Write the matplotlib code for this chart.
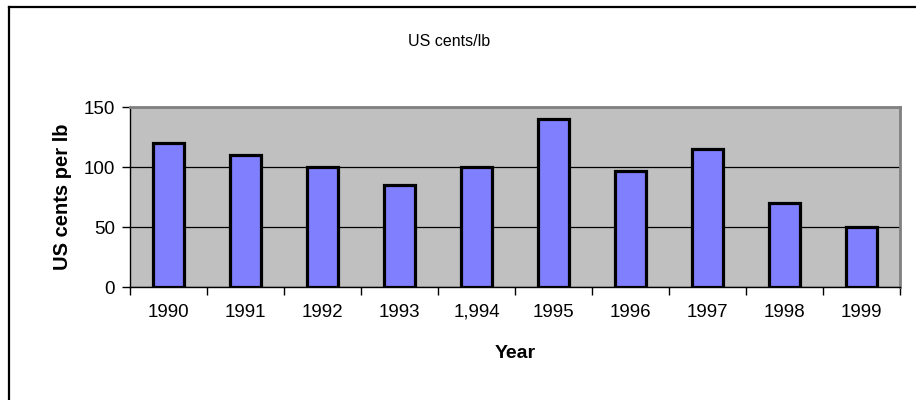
import numpy as np
import matplotlib.pyplot as plt
from matplotlib.lines import Line2D

plt.rcParams['font.family'] = ['Liberation Sans', 'DejaVu Sans']

years = ['1990', '1991', '1992', '1993', '1,994', '1995', '1996', '1997', '1998', '1999']
cents = [120, 110, 100, 85, 100, 140, 97, 115, 70, 50]


def main():
    fig = plt.figure(figsize=(9.16, 4.0), dpi=100)
    ax = fig.add_axes([130 / 916, 1 - 287 / 400, 770 / 916, 180 / 400])
    ax.set_facecolor('#c0c0c0')

    x = np.arange(len(years))
    ax.bar(x, cents, width=0.41, color='#8080ff', edgecolor='black',
           linewidth=2.3, zorder=3)

    ax.set_xlim(-0.5, len(years) - 0.5)
    ax.set_ylim(0, 150)
    ax.set_yticks([0, 50, 100, 150])
    ax.yaxis.grid(True, color='black', linewidth=0.9, zorder=1)
    ax.set_axisbelow(True)

    # category labels centred, ticks on the boundaries
    ax.set_xticks(x)
    ax.set_xticklabels(years)
    ax.tick_params(axis='x', which='major', length=0, pad=12, labelsize=13.5)
    ax.set_xticks(np.arange(len(years) + 1) - 0.5, minor=True)
    ax.tick_params(axis='x', which='minor', length=6, width=1, direction='out')
    ax.tick_params(axis='y', length=6, width=1, direction='out', pad=5, labelsize=13.5)

    for side in ['left', 'bottom']:
        ax.spines[side].set_color('black')
        ax.spines[side].set_linewidth(1)
    for side in ['top', 'right']:
        ax.spines[side].set_color('#808080')
        ax.spines[side].set_linewidth(2)

    fig.text(449 / 916, 1 - 42 / 400, 'US cents/lb', ha='center', va='center', fontsize=11.5)
    fig.text(515 / 916, 1 - 353 / 400, 'Year', ha='center', va='center',
             fontsize=14, fontweight='bold')
    fig.text(62 / 916, 1 - 197 / 400, 'US cents per lb', ha='center', va='center',
             rotation=90, fontsize=14.5, fontweight='bold')

    # chart area border (only left and top edges are inside the picture)
    fig.add_artist(Line2D([8.5 / 916, 8.5 / 916], [0, 1 - 6.5 / 400],
                          transform=fig.transFigure, color='black', linewidth=1.6))
    fig.add_artist(Line2D([8.5 / 916, 1], [1 - 6.5 / 400, 1 - 6.5 / 400],
                          transform=fig.transFigure, color='black', linewidth=1.6))

    fig.savefig('out.png', dpi=100)


if __name__ == "__main__":
    main()
